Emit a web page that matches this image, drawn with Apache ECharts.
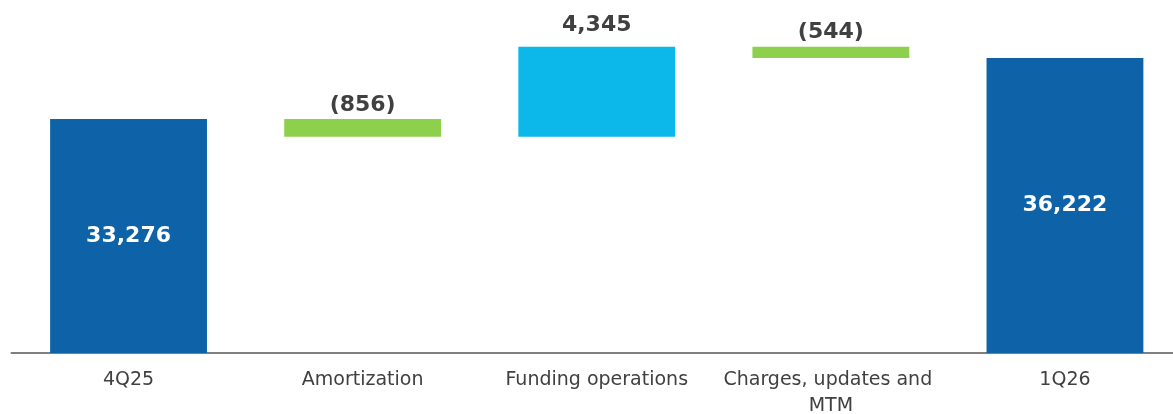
<!DOCTYPE html>
<html>
<head>
<meta charset="utf-8">
<script src="https://cdn.jsdelivr.net/npm/echarts@6/dist/echarts.min.js"></script>
<style>
html,body{margin:0;padding:0;background:#fff;}
#chart{width:1173px;height:414px;}
</style>
</head>
<body>
<div id="chart"></div>
<script>
// ---- Data ----
const categories = ['4Q25', 'Amortization', 'Funding operations', 'Charges, updates and MTM', '1Q26'];
const startTotal = 33276;
const deltas = [-856, 4345, -544];
const endTotal = 36222;

// ---- Build waterfall from data ----
const baseVals = [];
const barVals = [];
const kinds = [];
baseVals.push(0); barVals.push(startTotal); kinds.push('total');
let running = startTotal;
deltas.forEach(d => {
  const next = running + d;
  baseVals.push(Math.min(running, next));
  barVals.push(Math.abs(d));
  kinds.push(d < 0 ? 'neg' : 'pos');
  running = next;
});
baseVals.push(0); barVals.push(endTotal); kinds.push('total');

const colors = { total: '#0D62A8', neg: '#8CD04B', pos: '#0BB8E9' };
const fmt = v => v.toLocaleString('en-US');

const visibleData = barVals.map((v, i) => {
  const k = kinds[i];
  if (k === 'total') {
    return {
      value: v,
      itemStyle: { color: colors.total },
      label: { show: true, position: 'inside', color: '#ffffff', formatter: fmt(v) }
    };
  }
  const signed = deltas[i - 1];
  return {
    value: v,
    itemStyle: { color: colors[k] },
    label: {
      show: true, position: 'top', color: '#404040',
      distance: signed > 0 ? 10 : 3,
      formatter: signed < 0 ? '(' + fmt(-signed) + ')' : fmt(signed)
    }
  };
});

const chart = echarts.init(document.getElementById('chart'), null, { renderer: 'canvas' });
chart.setOption({
  animation: false,
  backgroundColor: '#ffffff',
  grid: { left: 11.5, right: -9, top: 21, bottom: 61, containLabel: false, outerBoundsMode: 'none' },
  xAxis: {
    type: 'category',
    data: categories,
    axisLine: { show: true, lineStyle: { color: '#7F7F7F', width: 2 } },
    axisTick: { show: false },
    axisLabel: {
      color: '#404040',
      fontFamily: 'DejaVu Sans',
      fontSize: 19,
      lineHeight: 26,
      margin: 14,
      width: 228,
      overflow: 'break',
      interval: 0
    }
  },
  yAxis: {
    type: 'value',
    min: 22000,
    max: 38000,
    show: false,
    splitLine: { show: false }
  },
  series: [
    {
      name: 'base',
      type: 'bar',
      stack: 'wf',
      data: baseVals,
      itemStyle: { color: 'transparent' },
      emphasis: { disabled: true },
      silent: true,
      barWidth: '67%'
    },
    {
      name: 'value',
      type: 'bar',
      stack: 'wf',
      data: visibleData,
      barWidth: '67%',
      label: {
        fontFamily: 'DejaVu Sans',
        fontWeight: 'bold',
        fontSize: 22
      }
    }
  ]
});
</script>
</body>
</html>
